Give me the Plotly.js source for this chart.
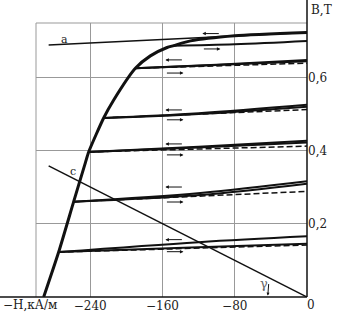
<!DOCTYPE html>
<html><head><meta charset="utf-8">
<script src="https://cdn.plot.ly/plotly-3.0.1.min.js"></script>
<style>html,body{margin:0;padding:0;background:#fff}</style>
</head><body><div id="chart" style="width:340px;height:324px"></div>
<script>
// Main demagnetization curve (H in kA/m, B in T)
const mainH = [-291.5, -274.9, -258.3, -245.3, -241.7, -225.1, -214.3, -190.0, -173.4, -154.9, -147.6, -129.0, -80.0, 0];
const mainB = [0, 0.123, 0.261, 0.368, 0.397, 0.490, 0.538, 0.626, 0.660, 0.683, 0.688, 0.701, 0.715, 0.724];
// Recoil (minor) loops
const recoilStartH = [-274.9, -258.3, -241.7, -225.1, -190.0, -147.6];
const recoilStartB = [0.123, 0.261, 0.397, 0.490, 0.626, 0.688];
const recoilMidH = [-120, -118, -120, -120, -100, -80];
const upperMidB = [0.150, 0.285, 0.411, 0.503, 0.636];
const upperEndB = [0.166, 0.317, 0.428, 0.526, 0.649];
const lowerMidB = [0.136, 0.279, 0.409, 0.501, 0.635, 0.692];
const lowerEndB = [0.146, 0.310, 0.423, 0.521, 0.645, 0.701];
const dashEndB = [0.142, 0.289, 0.413, 0.513, 0.640];
// Straight lines a and c
const lineAH = [-286, 0];
const lineAB = [0.690, 0.724];
const lineCH = [-286, 0];
const lineCB = [0.359, 0];
// Axis ticks
const xTicks = [-240, -160, -80];
const xTickText = ['\u2212240', '\u2212160', '\u221280'];
const yTicks = [0.2, 0.4, 0.6];
const yTickText = ['0,2', '0,4', '0,6'];

const K = '#111';
const traces = [];
traces.push({x: lineAH, y: lineAB, mode: 'lines', line: {color: K, width: 1.5}});
traces.push({x: lineCH, y: lineCB, mode: 'lines', line: {color: K, width: 1.5}});
for (let i = 0; i < recoilStartH.length; i++) {
  if (i < upperEndB.length) {
    traces.push({x: [recoilStartH[i], recoilMidH[i], 0], y: [recoilStartB[i], upperMidB[i], upperEndB[i]],
      mode: 'lines', line: {color: K, width: 2, shape: 'spline'}});
    traces.push({x: [recoilStartH[i], 0], y: [recoilStartB[i], dashEndB[i]],
      mode: 'lines', line: {color: K, width: 1.5, dash: '6px,3px'}});
  }
  traces.push({x: [recoilStartH[i], recoilMidH[i], 0], y: [recoilStartB[i], lowerMidB[i], lowerEndB[i]],
    mode: 'lines', line: {color: K, width: 2, shape: 'spline'}});
}
traces.push({x: mainH, y: mainB, mode: 'lines', line: {color: K, width: 3, shape: 'spline', smoothing: 0.6}});

// direction arrows (left arrow above, right arrow below each loop)
const arrowLeftB = [0.157, 0.301, 0.419, 0.512, 0.649, 0.721];
const arrowRightB = [0.124, 0.260, 0.389, 0.485, 0.613, 0.679];
const arrowLeftH = [-156.8, -156.8, -156.8, -156.8, -156.8, -115.9];
const annotations = [];
for (let i = 0; i < arrowLeftB.length; i++) {
  annotations.push({x: arrowLeftH[i], y: arrowLeftB[i], ax: 18, ay: 0, text: '', showarrow: true,
    arrowhead: 2, arrowsize: 0.7, arrowwidth: 1, arrowcolor: K});
  annotations.push({x: arrowLeftH[i] + 20, y: arrowRightB[i], ax: -18, ay: 0, text: '', showarrow: true,
    arrowhead: 2, arrowsize: 0.7, arrowwidth: 1, arrowcolor: K});
}
const tf = {family: 'DejaVu Serif', size: 12, color: '#222'};
const sf = {family: 'DejaVu Serif', size: 11, color: '#222'};
annotations.push({x: -268, y: 0.704, text: 'a', showarrow: false, xanchor: 'center', yanchor: 'middle', font: sf});
annotations.push({x: -259, y: 0.343, text: 'c', showarrow: false, xanchor: 'center', yanchor: 'middle', font: sf});
annotations.push({x: -48, y: 0.038, text: '\u03b3', showarrow: false, xanchor: 'center', yanchor: 'middle',
  font: {family: 'DejaVu Serif', size: 13, color: '#666'}});
annotations.push({x: -43.4, y: 0.004, ax: 1, ay: -13, text: '', showarrow: true, arrowhead: 2, arrowsize: 0.6, arrowwidth: 1, arrowcolor: K});
annotations.push({xref: 'paper', yref: 'paper', x: 1.055, y: 1.047, xanchor: 'center', yanchor: 'middle', text: 'B,T', showarrow: false, font: tf});
annotations.push({xref: 'paper', yref: 'paper', x: -0.13, xanchor: 'left', y: -0.03, yanchor: 'middle', text: '\u2212H,\u043a\u0410/\u043c', showarrow: false, font: tf});
annotations.push({xref: 'paper', yref: 'paper', x: 1.0166, y: -0.03, xanchor: 'center', yanchor: 'middle', text: '0', showarrow: false, font: tf});

const layout = {
  width: 340, height: 324, showlegend: false,
  margin: {l: 36, r: 33, t: 23, b: 27},
  paper_bgcolor: '#fff', plot_bgcolor: '#fff',
  xaxis: {range: [-300, 0], tickvals: xTicks, ticktext: xTickText, showgrid: true, gridcolor: '#999', gridwidth: 1,
    zeroline: false, showline: false, ticks: '', tickfont: tf, fixedrange: true},
  yaxis: {range: [0, 0.75], side: 'right', tickvals: yTicks, ticktext: yTickText, showgrid: true, gridcolor: '#999', gridwidth: 1,
    zeroline: false, showline: false, ticks: '', tickfont: tf, fixedrange: true},
  shapes: [
    {type: 'line', xref: 'paper', yref: 'paper', x0: 0, x1: 0, y0: 0, y1: 1, line: {color: '#999', width: 1}},
    {type: 'line', xref: 'paper', yref: 'paper', x0: 0, x1: 1, y0: 1, y1: 1, line: {color: '#999', width: 1}},
    {type: 'line', xref: 'paper', yref: 'paper', x0: -0.14, x1: 1, y0: 0, y1: 0, line: {color: K, width: 1.5}},
    {type: 'line', xref: 'paper', yref: 'paper', x0: 1, x1: 1, y0: 0, y1: 1.09, line: {color: K, width: 1.5}}
  ],
  annotations: annotations
};
Plotly.newPlot('chart', traces, layout, {displayModeBar: false, staticPlot: true});
</script></body></html>
